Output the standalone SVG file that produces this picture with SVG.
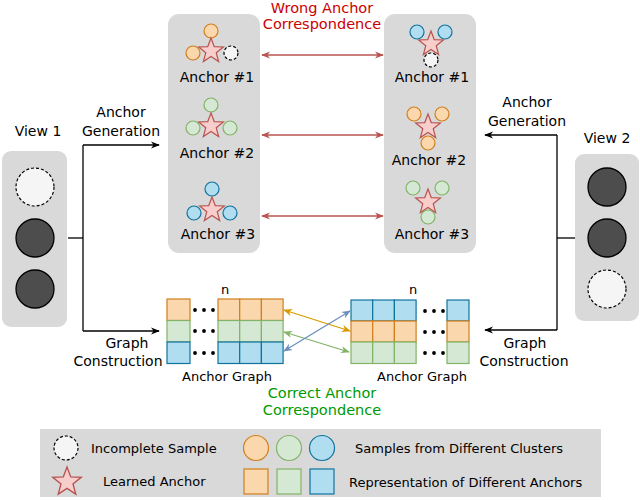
<svg xmlns="http://www.w3.org/2000/svg" width="640" height="500" viewBox="0 0 640 500">
<style>
text{font-family:"DejaVu Sans","Liberation Sans",sans-serif;fill:#000}
.t14{font-size:14px}
.t13{font-size:13px}
.mid{text-anchor:middle}
.red{fill:#cc0000;font-size:14.5px}
.grnt{fill:#009900;font-size:14.5px}
.panel{fill:#d9d9d9;stroke:none}
.dark{fill:#4d4d4d;stroke:#000;stroke-width:1.3}
.dash{fill:#f5f5f5;stroke:#000;stroke-width:1.2;stroke-dasharray:3 2}
.co{fill:#fad7ac;stroke:#d07f1c;stroke-width:1.2}
.cg{fill:#d5e8d4;stroke:#82b366;stroke-width:1.2}
.cb{fill:#b1ddf0;stroke:#10739e;stroke-width:1.2}
.star{fill:#f8cecc;stroke:#b85450;stroke-width:1.2}
.dot{fill:#000}
.ln{fill:none;stroke:#000;stroke-width:1.3}
</style>
<defs>
<polygon id="star" points="0,-13 3.23,-4.45 12.36,-4.02 5.23,1.7 7.64,10.52 0,5.5 -7.64,10.52 -5.23,1.7 -12.36,-4.02 -3.23,-4.45"/>
<marker id="mk" viewBox="0 0 10 10" refX="9" refY="5" markerWidth="9" markerHeight="9" markerUnits="userSpaceOnUse" orient="auto-start-reverse"><path d="M0,1 L10,5 L0,9 L3,5 z" fill="#000"/></marker>
<marker id="mr" viewBox="0 0 10 10" refX="9" refY="5" markerWidth="9" markerHeight="9" markerUnits="userSpaceOnUse" orient="auto-start-reverse"><path d="M0,1 L10,5 L0,9 L3,5 z" fill="#b85450"/></marker>
<marker id="mo" viewBox="0 0 10 10" refX="9" refY="5" markerWidth="9" markerHeight="9" markerUnits="userSpaceOnUse" orient="auto-start-reverse"><path d="M0,1 L10,5 L0,9 L3,5 z" fill="#d79b00"/></marker>
<marker id="mg" viewBox="0 0 10 10" refX="9" refY="5" markerWidth="9" markerHeight="9" markerUnits="userSpaceOnUse" orient="auto-start-reverse"><path d="M0,1 L10,5 L0,9 L3,5 z" fill="#82b366"/></marker>
<marker id="mb" viewBox="0 0 10 10" refX="9" refY="5" markerWidth="9" markerHeight="9" markerUnits="userSpaceOnUse" orient="auto-start-reverse"><path d="M0,1 L10,5 L0,9 L3,5 z" fill="#6c8ebf"/></marker>
</defs>

<!-- View 1 -->
<g id="view1">
<text class="t14 mid" x="38" y="136">View 1</text>
<rect class="panel" x="2" y="151" width="65" height="176" rx="9"/>
<circle class="dash" cx="35" cy="187" r="19"/>
<circle class="dark" cx="35" cy="238" r="19"/>
<circle class="dark" cx="35" cy="289" r="19"/>
</g>

<!-- View 2 -->
<g id="view2">
<text class="t14 mid" x="607" y="143">View 2</text>
<rect class="panel" x="575" y="154" width="64" height="167" rx="9"/>
<circle class="dark" cx="607" cy="187" r="19"/>
<circle class="dark" cx="607" cy="238" r="19"/>
<circle class="dash" cx="607" cy="289" r="19"/>
</g>

<!-- Left anchor panel -->
<g id="anchors-left">
<rect class="panel" x="168" y="14" width="92" height="239" rx="11"/>
<circle class="co" cx="211" cy="31" r="7"/>
<circle class="co" cx="193" cy="53" r="7"/>
<circle class="dash" cx="231" cy="53" r="7"/>
<use href="#star" class="star" x="211" y="51"/>
<text class="t14 mid" x="217" y="82">Anchor #1</text>
<circle class="cg" cx="211" cy="105" r="7"/>
<circle class="cg" cx="193" cy="128" r="7"/>
<circle class="cg" cx="230" cy="128" r="7"/>
<use href="#star" class="star" x="211" y="126"/>
<text class="t14 mid" x="217" y="158">Anchor #2</text>
<circle class="cb" cx="212" cy="189" r="7"/>
<circle class="cb" cx="194" cy="213" r="7"/>
<circle class="cb" cx="230" cy="213" r="7"/>
<use href="#star" class="star" x="212" y="210"/>
<text class="t14 mid" x="218" y="239">Anchor #3</text>
</g>

<!-- Right anchor panel -->
<g id="anchors-right">
<rect class="panel" x="384" y="14" width="92" height="239" rx="11"/>
<circle class="cb" cx="417" cy="32" r="7"/>
<circle class="cb" cx="445" cy="32" r="7"/>
<use href="#star" class="star" x="431" y="44"/>
<circle class="dash" cx="431" cy="60" r="7"/>
<text class="t14 mid" x="432" y="82">Anchor #1</text>
<circle class="co" cx="414" cy="114" r="7"/>
<circle class="co" cx="442" cy="114" r="7"/>
<use href="#star" class="star" x="428" y="127"/>
<circle class="co" cx="428" cy="143" r="7"/>
<text class="t14 mid" x="429" y="165">Anchor #2</text>
<circle class="cg" cx="413" cy="188" r="7"/>
<circle class="cg" cx="442" cy="188" r="7"/>
<use href="#star" class="star" x="428" y="202"/>
<circle class="cg" cx="428" cy="217" r="7"/>
<text class="t14 mid" x="432" y="239">Anchor #3</text>
</g>

<!-- Left anchor graph -->
<g id="graph-left">
<text class="t13" x="221" y="294">n</text>
<rect class="co" x="167" y="299" width="23" height="21.5"/>
<rect class="cg" x="167" y="320.5" width="23" height="21.5"/>
<rect class="cb" x="167" y="342" width="23" height="21.5"/>
<g class="dot">
<circle cx="195" cy="310" r="1.9"/><circle cx="204" cy="310" r="1.9"/><circle cx="213" cy="310" r="1.9"/>
<circle cx="195" cy="331" r="1.9"/><circle cx="204" cy="331" r="1.9"/><circle cx="213" cy="331" r="1.9"/>
<circle cx="195" cy="353" r="1.9"/><circle cx="204" cy="353" r="1.9"/><circle cx="213" cy="353" r="1.9"/>
</g>
<rect class="co" x="218" y="299" width="21.7" height="21.5"/><rect class="co" x="239.7" y="299" width="21.7" height="21.5"/><rect class="co" x="261.4" y="299" width="21.7" height="21.5"/>
<rect class="cg" x="218" y="320.5" width="21.7" height="21.5"/><rect class="cg" x="239.7" y="320.5" width="21.7" height="21.5"/><rect class="cg" x="261.4" y="320.5" width="21.7" height="21.5"/>
<rect class="cb" x="218" y="342" width="21.7" height="21.5"/><rect class="cb" x="239.7" y="342" width="21.7" height="21.5"/><rect class="cb" x="261.4" y="342" width="21.7" height="21.5"/>
<text class="t13 mid" x="227" y="381">Anchor Graph</text>
</g>

<!-- Right anchor graph -->
<g id="graph-right">
<text class="t13" x="409" y="294">n</text>
<rect class="cb" x="351" y="300" width="21.7" height="21"/><rect class="cb" x="372.7" y="300" width="21.7" height="21"/><rect class="cb" x="394.4" y="300" width="21.7" height="21"/>
<rect class="co" x="351" y="321" width="21.7" height="21"/><rect class="co" x="372.7" y="321" width="21.7" height="21"/><rect class="co" x="394.4" y="321" width="21.7" height="21"/>
<rect class="cg" x="351" y="342" width="21.7" height="21.5"/><rect class="cg" x="372.7" y="342" width="21.7" height="21.5"/><rect class="cg" x="394.4" y="342" width="21.7" height="21.5"/>
<g class="dot">
<circle cx="425" cy="311" r="1.9"/><circle cx="434" cy="311" r="1.9"/><circle cx="443" cy="311" r="1.9"/>
<circle cx="425" cy="332" r="1.9"/><circle cx="434" cy="332" r="1.9"/><circle cx="443" cy="332" r="1.9"/>
<circle cx="425" cy="353" r="1.9"/><circle cx="434" cy="353" r="1.9"/><circle cx="443" cy="353" r="1.9"/>
</g>
<rect class="cb" x="447" y="300" width="22" height="21"/>
<rect class="co" x="447" y="321" width="22" height="21"/>
<rect class="cg" x="447" y="342" width="22" height="21.5"/>
<text class="t13 mid" x="422" y="381">Anchor Graph</text>
</g>

<!-- Connectors -->
<g id="connectors">
<path class="ln" d="M68,238 H83"/>
<path class="ln" d="M83,145 V331" />
<path class="ln" d="M83,145 H159" marker-end="url(#mk)"/>
<path class="ln" d="M83,331 H159" marker-end="url(#mk)"/>
<path class="ln" d="M575,238 H557"/>
<path class="ln" d="M557,135 V330"/>
<path class="ln" d="M557,135 H485" marker-end="url(#mk)"/>
<path class="ln" d="M557,330 H485" marker-end="url(#mk)"/>
<path d="M262,55 H383" fill="none" stroke="#b85450" stroke-width="1.3" marker-start="url(#mr)" marker-end="url(#mr)"/>
<path d="M262,135 H383" fill="none" stroke="#b85450" stroke-width="1.3" marker-start="url(#mr)" marker-end="url(#mr)"/>
<path d="M262,216 H383" fill="none" stroke="#b85450" stroke-width="1.3" marker-start="url(#mr)" marker-end="url(#mr)"/>
<path d="M284,310 L350,331" fill="none" stroke="#d79b00" stroke-width="1.3" marker-start="url(#mo)" marker-end="url(#mo)"/>
<path d="M284,332 L349,352" fill="none" stroke="#82b366" stroke-width="1.3" marker-start="url(#mg)" marker-end="url(#mg)"/>
<path d="M284,351 L350,311" fill="none" stroke="#6c8ebf" stroke-width="1.3" marker-start="url(#mb)" marker-end="url(#mb)"/>
</g>

<!-- Labels -->
<g id="labels">
<text class="t14 mid" x="121" y="117">Anchor</text>
<text class="t14 mid" x="121" y="136">Generation</text>
<text class="t14 mid" x="527" y="107">Anchor</text>
<text class="t14 mid" x="527" y="126">Generation</text>
<text class="t14 mid" x="127" y="348">Graph</text>
<text class="t14 mid" x="118" y="366">Construction</text>
<text class="t14 mid" x="525" y="348">Graph</text>
<text class="t14 mid" x="524" y="366">Construction</text>
<text class="red mid" x="322" y="13">Wrong Anchor</text>
<text class="red mid" x="322" y="29">Correspondence</text>
<text class="grnt mid" x="322" y="398">Correct Anchor</text>
<text class="grnt mid" x="322" y="415">Correspondence</text>
</g>

<!-- Legend -->
<g id="legend">
<rect class="panel" x="40" y="429" width="561" height="68"/>
<circle class="dash" cx="66" cy="448" r="12"/>
<text class="t13" x="91" y="453">Incomplete Sample</text>
<use href="#star" class="star" transform="translate(67,482) scale(1.15)"/>
<text class="t13" x="103" y="486">Learned Anchor</text>
<circle class="co" cx="256" cy="448" r="12.5"/>
<circle class="cg" cx="289" cy="448" r="12.5"/>
<circle class="cb" cx="322" cy="448" r="12.5"/>
<text class="t13" x="355" y="453">Samples from Different Clusters</text>
<rect class="co" x="244" y="469" width="24" height="25"/>
<rect class="cg" x="277" y="469" width="24" height="25"/>
<rect class="cb" x="310" y="469" width="24" height="25"/>
<text class="t13" x="349" y="487">Representation of Different Anchors</text>
</g>
</svg>
